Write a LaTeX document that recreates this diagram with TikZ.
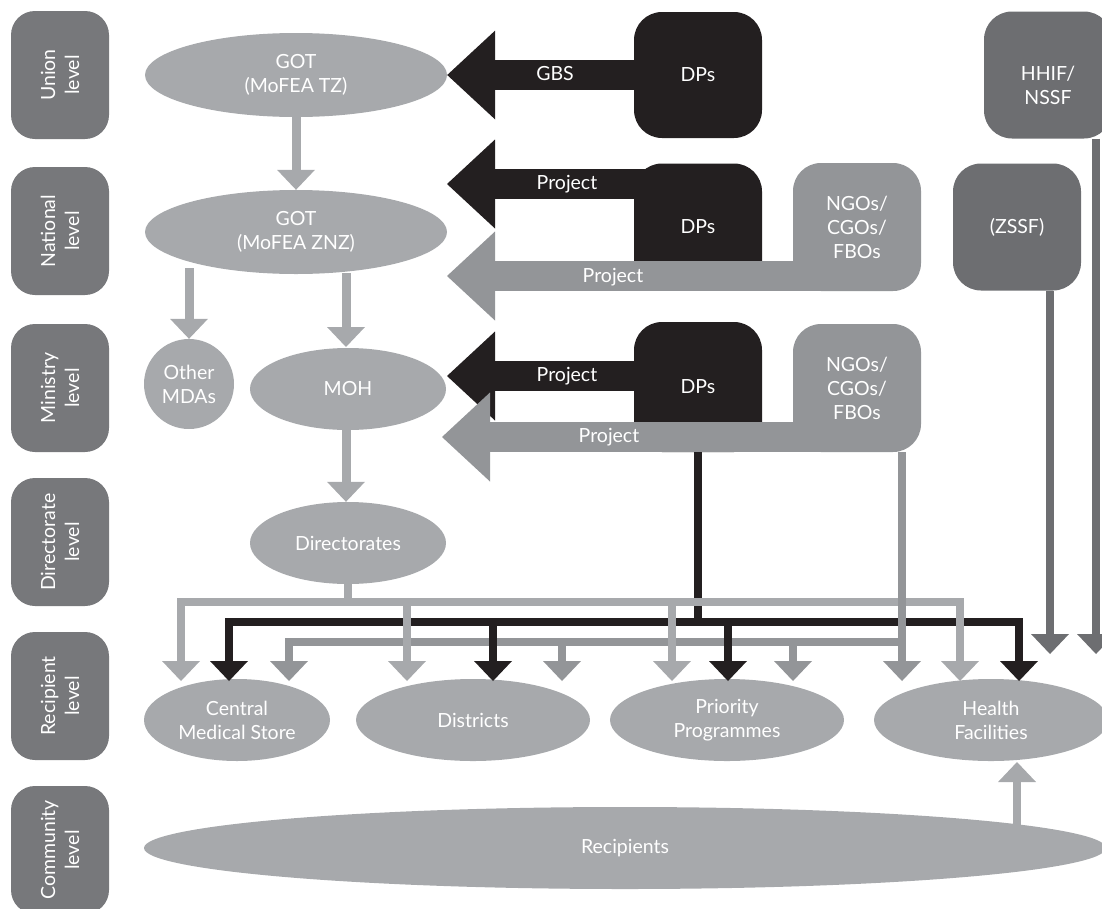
\documentclass[tikz,border=0pt]{standalone}
\usepackage{fontspec}
\setmainfont{Lato}
\usetikzlibrary{shapes.geometric,arrows.meta}
\definecolor{lvl}{HTML}{77787B}
\definecolor{ellc}{HTML}{A7A9AC}
\definecolor{midc}{HTML}{939598}
\definecolor{dkc}{HTML}{6D6E71}
\definecolor{blk}{HTML}{231F20}
\tikzset{
  Hd/.tip={Triangle[length=20pt 0 0,width=38pt 0 0,line width=0pt 0 0]},
  Bg/.tip={Triangle[length=48pt 0 0,width=89pt 0 0,line width=0pt 0 0]},
  lvlbox/.style={fill=lvl,rounded corners=24pt,minimum width=128pt,minimum height=98pt,inner sep=0pt,text=white,align=center,rotate=90},
  ellnode/.style={ellipse,fill=ellc,text=white,inner sep=0pt,align=center},
  dpbox/.style={fill=blk,rounded corners=28pt,text=white,minimum width=128pt,inner sep=0pt,align=center},
  ngobox/.style={fill=midc,rounded corners=28pt,text=white,minimum width=128pt,minimum height=128pt,inner sep=0pt,align=center},
  funbox/.style={fill=dkc,rounded corners=28pt,text=white,minimum width=128pt,minimum height=127pt,inner sep=0pt,align=center},
  wtxt/.style={text=white,align=center,inner sep=0pt},
  thick arrow/.style={draw=ellc,line width=9pt,-Hd},
  lgl/.style={draw=ellc,line width=8pt,line join=miter},
  mdl/.style={draw=midc,line width=8pt,line join=miter},
  bkl/.style={draw=blk,line width=8pt,line join=miter},
  dkl/.style={draw=dkc,line width=8pt},
  bigblk/.style={draw=blk,line width=30pt,-Bg},
  biggray/.style={draw=midc,line width=30pt,-Bg},
}
\begin{document}
\begin{tikzpicture}[x=1pt,y=-1pt,font=\fontsize{19.5}{24}\selectfont]
\useasboundingbox (0,0) rectangle (1102,908);

% level boxes
\node[lvlbox] (lvU) at (60,75) {Union\\level};
\node[lvlbox] (lvN) at (60,231) {National\\level};
\node[lvlbox] (lvM) at (60,388) {Ministry\\level};
\node[lvlbox] (lvD) at (60,542) {Directorate\\level};
\node[lvlbox] (lvR) at (60,696) {Recipient\\level};
\node[lvlbox] (lvC) at (60,850) {Community\\level};

% ellipses
\node[ellnode,minimum width=302pt,minimum height=84pt] (gotTZ) at (296,75) {GOT\\(MoFEA TZ)};
\node[ellnode,minimum width=302pt,minimum height=84pt] (gotZNZ) at (296,232) {GOT\\(MoFEA ZNZ)};
\node[circle,fill=ellc,text=white,inner sep=0pt,align=center,minimum size=90pt] (mdas) at (189,384) {Other\\MDAs};
\node[ellnode,minimum width=196pt,minimum height=82pt] (moh) at (348,389) {MOH};
\node[ellnode,minimum width=196pt,minimum height=82pt] (dirs) at (348,543) {Directorates};
\node[ellnode,minimum width=186pt,minimum height=82pt] (cms) at (237,720) {Central\\Medical Store};
\node[ellnode,minimum width=234pt,minimum height=82pt] (dist) at (473,720) {Districts};
\node[ellnode,minimum width=234pt,minimum height=82pt] (prio) at (727,720) {Priority\\Programmes};
\node[ellnode,minimum width=234pt,minimum height=82pt] (hf) at (991,720) {Health\\Facilities};
\node[ellnode,minimum width=962pt,minimum height=82pt] (recip) at (625,848) {Recipients};

% black block arrows (under the DP boxes)
\coordinate (tipN) at (447,184);
\coordinate (tipNg) at (447,276);
\coordinate (tipM) at (447,376);
\coordinate (tipMg) at (442,437);
\coordinate (srcU) at (698,75);
\coordinate (srcN) at (698,184);
\coordinate (srcM) at (698,376);
\draw[bigblk] (srcU) -- (gotTZ.east);
\draw[bigblk] (srcN) -- (tipN);
\draw[bigblk] (srcM) -- (tipM);

% source boxes
\node[dpbox,minimum height=126pt] (dps1) at (srcU) {DPs};
\node[dpbox,minimum height=127pt] (dps2) at (698,227) {DPs};
\node[dpbox,minimum height=130pt] (dps3) at (698,387) {DPs};
\node[ngobox] (ngo1) at (857,227) {NGOs/\\CGOs/\\FBOs};
\node[ngobox] (ngo2) at (857,388) {NGOs/\\CGOs/\\FBOs};
\node[funbox] (zssf) at (1017,227) {(ZSSF)};
\node[funbox] (hhif) at (1048,75) {};
\node[wtxt] (hhiftxt) at (1048,85) {HHIF/\\NSSF};

% gray block arrows (over the DP boxes)
\draw[biggray] ([xshift=40pt]ngo1.center |- tipNg) -- (tipNg);
\draw[biggray] ([xshift=40pt]ngo2.center |- tipMg) -- (tipMg);
\node[wtxt] (lgbs) at (555,74) {GBS};
\node[wtxt] (lpn) at (567,184) {Project};
\node[wtxt] (lpng) at (613,277) {Project};
\node[wtxt] (lpm) at (567,376) {Project};
\node[wtxt] (lpmg) at (609,437) {Project};

% vertical government arrows
\draw[thick arrow] (gotTZ.south) -- (gotZNZ.north);
\draw[thick arrow] (mdas.north |- 0,268) -- (mdas.north);
\draw[thick arrow] (346,273) -- (346,347);
\draw[thick arrow] (346,430) -- (dirs.north -| 346,0);

% distribution: dark gray (NGOs) horizontal
\draw[mdl,-Hd] (289,642) -- (289,681);
\draw[mdl] (285,642) -- (902,642);
\draw[mdl,-Hd] (562,642) -- (562,681);
\draw[mdl,-Hd] (793,642) -- (793,681);
% black (DPs)
\draw[bkl] (dps3.south) -- (698,622);
\draw[bkl,Hd-Hd] (229,681) -- (229,622) -- (1019,622) -- (1019,681);
\draw[bkl,-Hd] (493,622) -- (493,681);
\draw[bkl,-Hd] (728,622) -- (728,681);
% light gray (Directorates)
\draw[lgl] (dirs.south) -- (348,602);
\draw[lgl,Hd-Hd] (181,681) -- (181,602) -- (960,602) -- (960,681);
\draw[lgl,-Hd] (407,602) -- (407,681);
\draw[lgl,-Hd] (672,602) -- (672,681);
% NGO vertical
\draw[mdl,-Hd] (902,452) -- (902,681);
% ZSSF and HHIF
\draw[dkl,-Hd] (zssf.south -| 1050,0) -- (1050,654);
\draw[dkl,-Hd] (hhif.south -| 1096,0) -- (1096,654);
% Recipients to Health Facilities
\draw[lgl,-Hd] (1017,828) -- (1017,762);
\end{tikzpicture}
\end{document}
